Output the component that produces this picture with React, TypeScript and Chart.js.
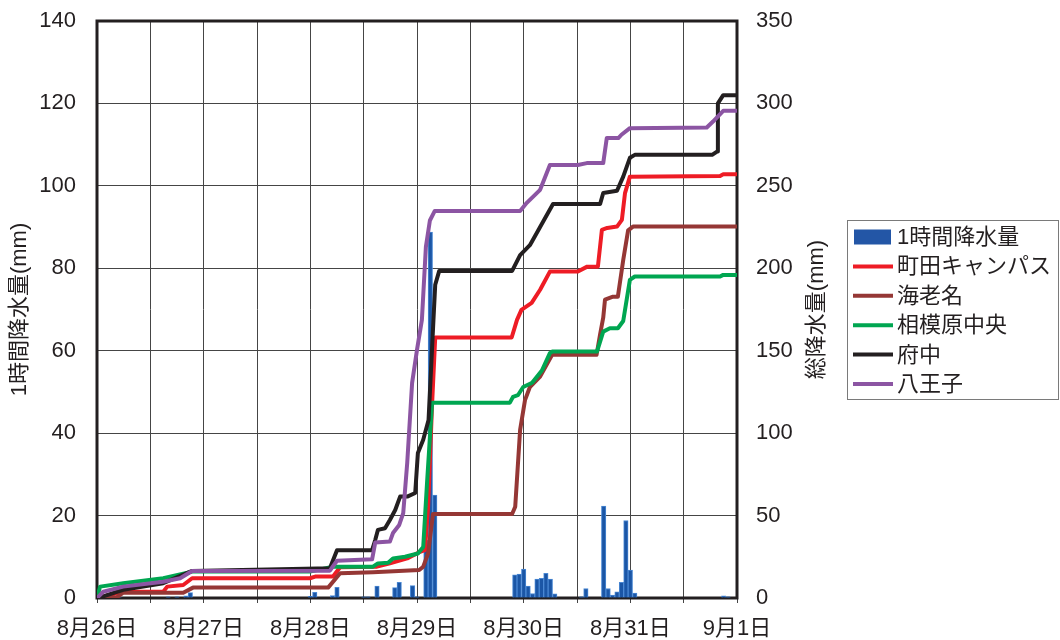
import React, { useEffect, useRef } from 'react';
import { Chart, registerables } from 'chart.js';

Chart.register(...registerables);

// x axis: hours since 8/26 00:00
const dayLabels = ['8月26日', '8月27日', '8月28日', '8月29日', '8月30日', '8月31日', '9月1日'];

// hourly rainfall (mm), left axis
const rainHours = [5, 16, 18, 20, 21, 48, 49, 53, 54, 60, 61, 63, 67, 68, 71, 72, 74, 75, 76,
  94, 95, 96, 97, 98, 99, 100, 101, 102, 103, 109, 110, 114, 115, 116, 117, 118, 119, 120, 121, 141, 142];
const rainValues = [0.3, 0.3, 0.3, 0.5, 1.3, 0.4, 1.4, 0.6, 2.6, 0.3, 0.3, 2.9, 2.5, 3.8, 3.0, 0.3, 14, 88.8, 25,
  5.6, 5.8, 7.0, 2.9, 1.1, 4.6, 4.8, 6.0, 4.6, 1.0, 0.3, 2.3, 22.3, 2.3, 0.7, 1.5, 3.8, 18.8, 6.8, 1.2, 0.5, 0.3];

// cumulative totals (mm), right axis
const machidaHours = [0, 5.9, 14.9, 15.8, 19.4, 21.4, 47.9, 49.1, 53.1, 54.7, 63, 65.9, 69.8, 72.7, 73.8, 74.5, 75.4, 76.1,
  93.3, 94.5, 95.5, 97.8, 99.7, 101.9, 108.2, 110.3, 112.7, 113.6, 114.8, 117, 118.1, 118.8, 119.9, 140.2, 140.9, 144];
const machidaTotals = [0, 3.8, 3.8, 6.9, 7.9, 12, 12, 13, 13, 18.6, 19, 21, 24, 28, 29, 55.4, 118, 158,
  158, 168.7, 174.8, 179, 187, 198, 198, 201, 201, 223.3, 224.5, 225.3, 229.4, 245.6, 255.6, 256, 257, 257];

const ebinaHours = [0, 4.5, 5.9, 19.4, 21.6, 52, 54.7, 62.1, 72.5, 73.4, 74.5, 75.6, 93.4, 94.1, 95.2, 96.3, 97.4, 99.7, 102.4,
  112.4, 113.2, 113.9, 114.3, 116.1, 117.2, 118.4, 119.5, 120.6, 144];
const ebinaTotals = [0, 0.5, 3.2, 3.2, 6.3, 6.3, 15, 15.6, 17, 19, 27, 51, 51, 55.4, 102, 120, 128, 134.3, 147.5,
  147.5, 160, 170, 181, 182.8, 182.8, 205, 223, 225.3, 225.3];

const sagamiHours = [0, 0.7, 5.9, 14.9, 21.4, 47.9, 53.1, 62.1, 63.2, 65.5, 66.6, 69.3, 72.2, 73.4, 74.3, 75.4, 92.9, 93.6, 94.7,
  95.9, 97.9, 100.1, 101.9, 102.4, 112.5, 113.9, 115.4, 117.2, 118.4, 119.9, 121, 140.2, 140.9, 144];
const sagamiTotals = [0, 6.9, 8.9, 12, 16, 16, 19, 19, 21, 21.4, 24, 25, 27, 31, 71.6, 118.5, 118.5, 122, 123,
  128, 130.6, 138, 148.5, 149.5, 149.5, 161.6, 163.6, 163.6, 168, 193, 195, 195, 196, 196];

const fuchuHours = [0, 1.4, 5.9, 14.9, 21.4, 52.4, 54, 61.9, 62.6, 63.2, 64.8, 65.9, 67.1, 68.2, 69.8, 71.6, 72.2, 73.4, 74.6, 75.7,
  76.1, 77.0, 93.4, 95.2, 97.4, 99.7, 102.6, 113.2, 113.9, 117, 118.4, 119.9, 121, 138.4, 139.5, 139.7, 140.9, 144];
const fuchuTotals = [0, 1, 5, 9, 16.4, 18, 29, 29, 35.2, 41.3, 42.3, 47.3, 53.4, 61.5, 61.5, 63.7, 88, 96, 108, 168.7,
  190, 198.4, 198.4, 208, 214, 225, 239, 239, 245.7, 247, 255.6, 267, 268.8, 268.8, 270.8, 300, 305, 305];

const hachiojiHours = [0, 1.4, 5.9, 14.9, 18.7, 21.4, 52.4, 54, 61.9, 62.6, 65.9, 66.6, 68, 68.9, 69.8, 70.9, 72, 73.1, 74, 74.9,
  76, 95.2, 96.7, 99.7, 101.9, 108.2, 110.2, 113.9, 114.7, 117.3, 118, 119.9, 137.2, 138.6, 140.9, 144];
const hachiojiTotals = [0, 3.8, 6.9, 9.9, 12, 16.4, 16.6, 22.6, 23.5, 33.6, 34.2, 39.4, 44.3, 51.5, 82, 130.5, 150.5, 168.7, 213, 229,
  234.8, 234.8, 239.7, 247.6, 262.7, 262.7, 263.8, 263.8, 279, 279, 281, 285, 285.4, 289, 295.5, 295.5];

const leftTitle = '1時間降水量(mm)';
const rightTitle = '総降水量(mm)';

const FONT = "'Liberation Sans', 'Noto Sans CJK JP', sans-serif";
const TEXT = '#231f20';
const GRID = '#454545';

const pairs = (hs: number[], vs: number[]) => hs.map((h, i) => ({ x: h, y: vs[i] }));

const overlay = {
  id: 'overlay',
  beforeDatasetsDraw(chart: any) {
    const { ctx, chartArea: a } = chart;
    ctx.save();
    ctx.strokeStyle = TEXT;
    ctx.lineWidth = 3;
    ctx.strokeRect(a.left, a.top, a.right - a.left, a.bottom - a.top);
    ctx.restore();
  },
  afterDraw(chart: any) {
    const { ctx, chartArea: a } = chart;
    const cy = (a.top + a.bottom) / 2;
    ctx.save();
    ctx.font = `22px ${FONT}`;
    ctx.fillStyle = TEXT;
    ctx.translate(a.right + 80, cy);
    ctx.rotate(-Math.PI / 2);
    ctx.textAlign = 'center';
    ctx.textBaseline = 'middle';
    ctx.fillText(rightTitle, 0, 0);
    ctx.restore();

    const bx = a.right + 110;
    const bw = 211;
    const bh = 179;
    const by = cy - bh / 2;
    ctx.save();
    ctx.strokeStyle = '#7a7a7a';
    ctx.lineWidth = 1;
    ctx.strokeRect(bx + 0.5, by + 0.5, bw, bh);
    chart.data.datasets.forEach((ds: any, i: number) => {
      const y = by + 17 + i * 29.4;
      if (ds.type === 'bar') {
        ctx.fillStyle = '#2356a6';
        ctx.fillRect(bx + 7, y - 7.5, 37, 15);
      } else {
        ctx.strokeStyle = ds.borderColor;
        ctx.lineWidth = 4;
        ctx.beginPath();
        ctx.moveTo(bx + 6, y);
        ctx.lineTo(bx + 46, y);
        ctx.stroke();
      }
      ctx.fillStyle = TEXT;
      ctx.font = `22px ${FONT}`;
      ctx.textAlign = 'left';
      ctx.textBaseline = 'middle';
      ctx.fillText(ds.label, bx + 50, y + 1);
    });
    ctx.restore();
  },
};

export default function App() {
  const ref = useRef<HTMLCanvasElement>(null);
  useEffect(() => {
    if (!ref.current) return;
    const lineDs = (label: string, color: string, hs: number[], vs: number[], order: number) => ({
      type: 'line' as const,
      label,
      data: pairs(hs, vs),
      borderColor: color,
      backgroundColor: color,
      borderWidth: 4,
      pointRadius: 0,
      tension: 0,
      borderJoinStyle: 'round' as const,
      yAxisID: 'y2',
      order,
    });
    const font = { family: FONT, size: 22 };
    const fitV = (w: number) => (s: any) => {
      s.width = w;
      s.paddingTop = 0;
      s.paddingBottom = 0;
    };
    const chart = new Chart(ref.current, {
      type: 'bar',
      data: {
        datasets: [
          {
            type: 'bar',
            label: '1時間降水量',
            data: pairs(rainHours, rainValues),
            backgroundColor: '#1b56a6',
            borderColor: '#4a88d4',
            borderWidth: 1,
            barPercentage: 1,
            categoryPercentage: 1,
            yAxisID: 'y',
            order: 10,
          } as any,
          lineDs('町田キャンパス', '#ee1c25', machidaHours, machidaTotals, 5),
          lineDs('海老名', '#953735', ebinaHours, ebinaTotals, 4),
          lineDs('相模原中央', '#00a651', sagamiHours, sagamiTotals, 3),
          lineDs('府中', '#231f20', fuchuHours, fuchuTotals, 2),
          lineDs('八王子', '#8c55a3', hachiojiHours, hachiojiTotals, 1),
        ],
      },
      options: {
        animation: false,
        responsive: false,
        layout: { padding: { top: 21, left: 0, right: 0, bottom: 0 } },
        plugins: { legend: { display: false }, tooltip: { enabled: false } },
        scales: {
          x: {
            type: 'linear',
            min: 0,
            max: 144,
            offset: false,
            afterFit: (s: any) => { s.height = 42; s.paddingLeft = 0; s.paddingRight = 0; },
            ticks: {
              stepSize: 12,
              autoSkip: false,
              maxRotation: 0,
              padding: 13,
              color: TEXT,
              font,
              callback: (v: any) => (Number(v) % 24 === 0 ? dayLabels[Number(v) / 24] : ''),
            },
            grid: { color: GRID, lineWidth: 1, drawTicks: true, tickLength: 5, tickColor: GRID, offset: false },
            border: { display: false },
          },
          y: {
            position: 'left',
            min: 0,
            max: 140,
            afterFit: fitV(97),
            ticks: { stepSize: 20, padding: 21, color: TEXT, font },
            grid: { color: GRID, lineWidth: 1, drawTicks: false },
            border: { display: false },
            title: { display: true, text: leftTitle, color: TEXT, font, padding: { top: 7, bottom: 0 } },
          },
          y2: {
            position: 'right',
            min: 0,
            max: 350,
            afterFit: fitV(323),
            ticks: { stepSize: 50, padding: 19, color: TEXT, font },
            grid: { drawOnChartArea: false, drawTicks: false },
            border: { display: false },
          },
        },
      } as any,
      plugins: [overlay],
    });
    return () => chart.destroy();
  }, []);
  return (
    <div style={{ position: 'fixed', left: 0, top: 0, width: 1060, height: 640, background: '#fff' }}>
      <canvas ref={ref} width={1060} height={640} style={{ width: 1060, height: 640, display: 'block' }} />
    </div>
  );
}
